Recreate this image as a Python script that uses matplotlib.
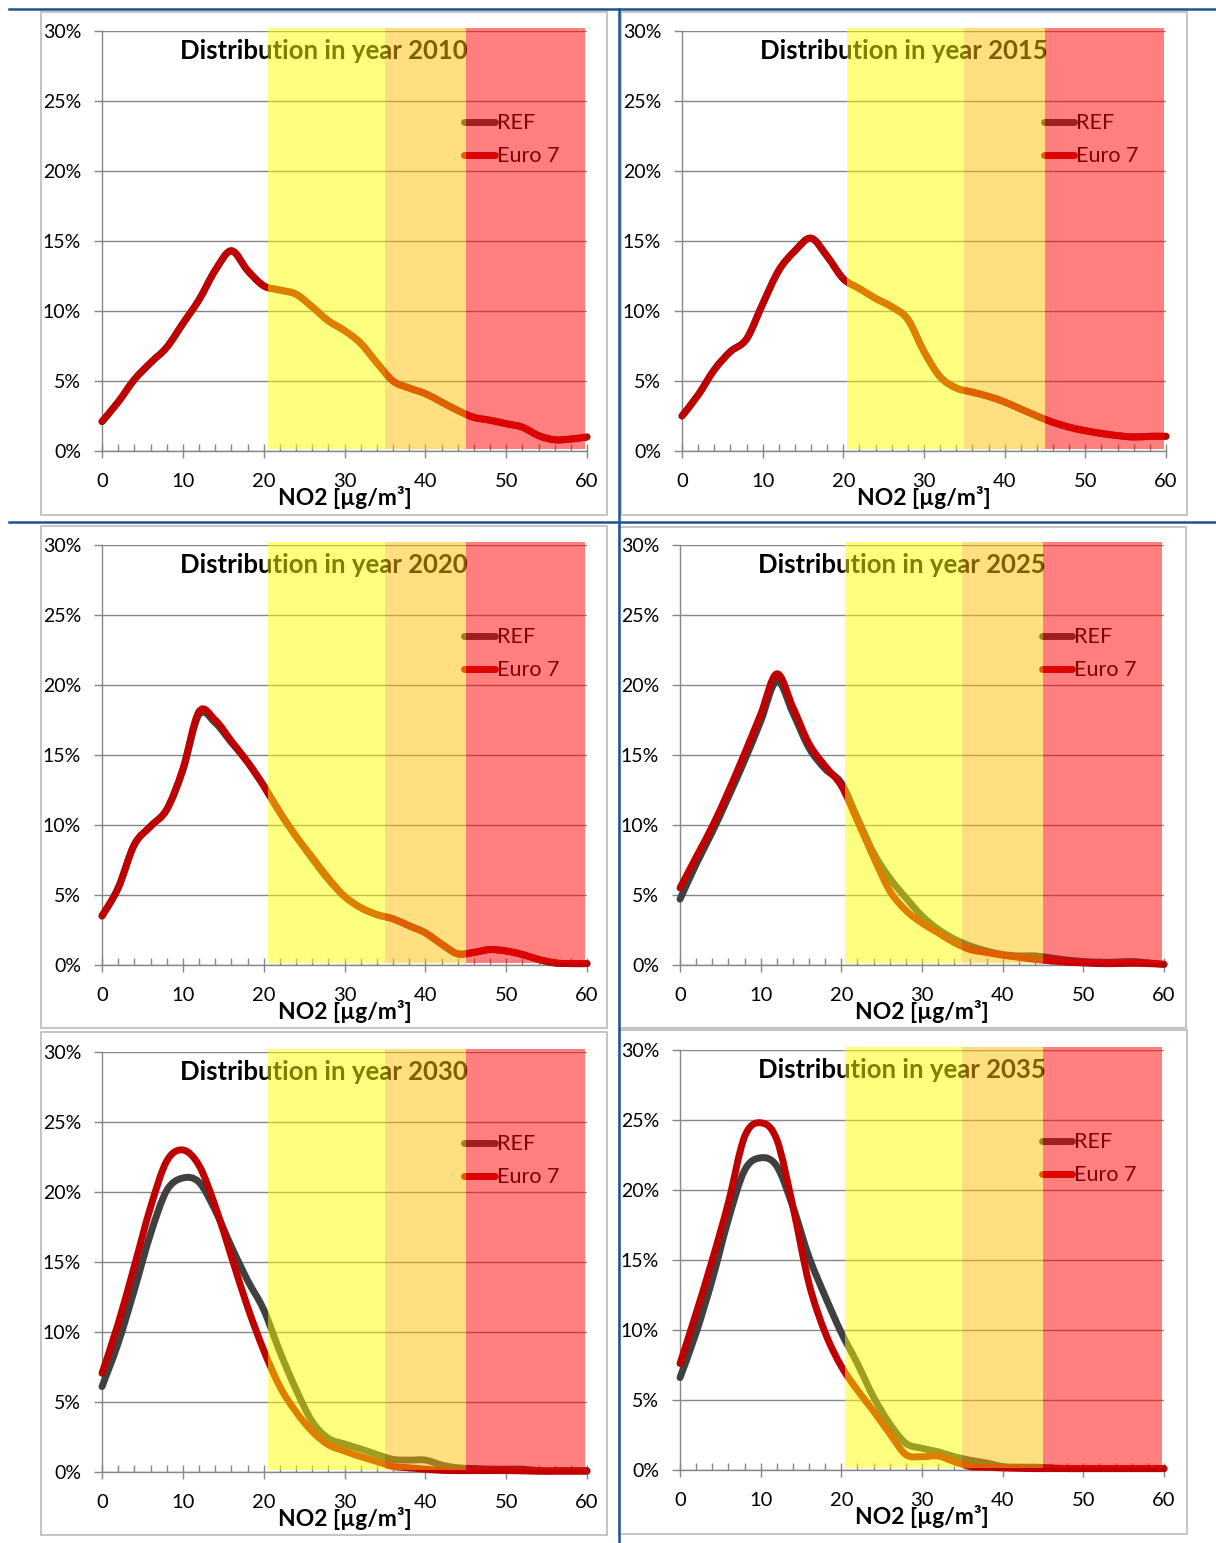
import matplotlib
matplotlib.use('Agg')
import matplotlib.pyplot as plt
from matplotlib.path import Path
from matplotlib.patches import PathPatch, Rectangle
from matplotlib.lines import Line2D

plt.rcParams['font.family'] = ['Lato', 'DejaVu Sans']

# NO2 concentration classes (x axis), step 2 ug/m3
no2 = list(range(0, 61, 2))

years = [2010, 2015, 2020, 2025, 2030, 2035]

# share of population [%] per concentration class
ref_2010 = [2.1, 3.5, 5.1, 6.3, 7.4, 9.1, 10.8, 12.9, 14.3, 12.9, 11.8, 11.5, 11.2, 10.3, 9.3, 8.6,
            7.7, 6.3, 5.0, 4.5, 4.1, 3.5, 2.9, 2.4, 2.2, 1.95, 1.7, 1.1, 0.8, 0.85, 1.0]
euro7_2010 = [2.1, 3.5, 5.1, 6.3, 7.4, 9.1, 10.8, 12.9, 14.3, 12.9, 11.8, 11.5, 11.2, 10.3, 9.3, 8.6,
              7.7, 6.3, 5.0, 4.5, 4.1, 3.5, 2.9, 2.4, 2.2, 1.95, 1.7, 1.1, 0.8, 0.85, 1.0]

ref_2015 = [2.5, 4.0, 5.8, 7.1, 8.0, 10.5, 12.9, 14.3, 15.2, 13.9, 12.3, 11.6, 10.9, 10.3, 9.4, 7.1,
            5.3, 4.5, 4.2, 3.9, 3.5, 3.0, 2.5, 2.05, 1.7, 1.45, 1.25, 1.1, 1.0, 1.05, 1.05]
euro7_2015 = [2.5, 4.0, 5.8, 7.1, 8.0, 10.5, 12.9, 14.3, 15.2, 13.9, 12.3, 11.6, 10.9, 10.3, 9.4, 7.1,
              5.3, 4.5, 4.2, 3.9, 3.5, 3.0, 2.5, 2.05, 1.7, 1.45, 1.25, 1.1, 1.0, 1.05, 1.05]

ref_2020 = [3.5, 5.5, 8.6, 9.9, 11.1, 13.9, 17.9, 17.3, 15.9, 14.5, 12.8, 10.9, 9.2, 7.6, 6.1, 4.9,
            4.1, 3.6, 3.3, 2.8, 2.3, 1.5, 0.8, 0.9, 1.1, 1.0, 0.75, 0.4, 0.15, 0.1, 0.1]
euro7_2020 = [3.5, 5.5, 8.6, 9.9, 11.1, 14.0, 18.1, 17.5, 16.0, 14.5, 12.8, 10.9, 9.2, 7.7, 6.2, 4.9,
              4.1, 3.6, 3.3, 2.8, 2.3, 1.5, 0.8, 0.9, 1.1, 1.0, 0.75, 0.4, 0.15, 0.1, 0.1]

ref_2025 = [4.7, 7.2, 9.5, 12.0, 14.6, 17.4, 20.3, 18.0, 15.5, 14.0, 13.0, 10.5, 8.0, 6.2, 4.8, 3.5,
            2.55, 1.85, 1.35, 1.0, 0.75, 0.65, 0.65, 0.5, 0.35, 0.25, 0.2, 0.2, 0.25, 0.15, 0.05]
euro7_2025 = [5.5, 7.7, 9.9, 12.4, 15.1, 17.9, 20.8, 18.4, 15.8, 14.2, 12.8, 10.3, 7.7, 5.3, 3.9, 3.0,
              2.3, 1.6, 1.1, 0.9, 0.7, 0.55, 0.4, 0.3, 0.2, 0.15, 0.1, 0.1, 0.12, 0.1, 0.05]

ref_2030 = [6.1, 9.2, 13.0, 17.0, 20.1, 21.0, 20.7, 18.7, 16.1, 13.7, 11.6, 8.6, 5.9, 3.6, 2.4, 2.0,
            1.65, 1.25, 0.9, 0.85, 0.85, 0.5, 0.3, 0.25, 0.2, 0.2, 0.2, 0.1, 0.1, 0.1, 0.1]
euro7_2030 = [7.05, 10.6, 14.7, 18.9, 22.2, 23.0, 21.9, 19.0, 15.4, 11.8, 8.7, 6.1, 4.3, 2.9, 1.95, 1.5,
              1.1, 0.75, 0.4, 0.3, 0.2, 0.12, 0.1, 0.1, 0.1, 0.1, 0.08, 0.05, 0.05, 0.05, 0.05]

ref_2035 = [6.6, 9.8, 13.6, 17.9, 21.4, 22.3, 21.7, 18.8, 15.2, 12.4, 9.8, 7.6, 5.2, 3.3, 1.9, 1.55,
            1.3, 0.95, 0.7, 0.5, 0.25, 0.2, 0.2, 0.15, 0.1, 0.1, 0.1, 0.1, 0.1, 0.1, 0.1]
euro7_2035 = [7.6, 11.2, 15.0, 19.1, 23.8, 24.8, 23.6, 18.8, 13.3, 9.8, 7.4, 5.7, 4.2, 2.6, 1.1, 0.95,
              1.0, 0.6, 0.25, 0.2, 0.15, 0.12, 0.1, 0.1, 0.1, 0.1, 0.1, 0.1, 0.1, 0.1, 0.1]

ref_series = [ref_2010, ref_2015, ref_2020, ref_2025, ref_2030, ref_2035]
euro7_series = [euro7_2010, euro7_2015, euro7_2020, euro7_2025, euro7_2030, euro7_2035]

y_ticks = [0, 5, 10, 15, 20, 25, 30]
x_ticks = [0, 10, 20, 30, 40, 50, 60]

# limit value bands: (from, to, colour)
bands = [(20.5, 35, '#FFFF00'), (35, 45, '#FFC000'), (45, 59.7, '#FF0000')]

REF_COL = '#404040'
E7_COL = '#C00000'
GRID = '#868686'

W, H = 1216, 1543
# plot areas and chart borders in pixels (x0, y0, x1, y1)
plot_px = [(102, 31, 587, 451), (682, 31, 1166, 451),
           (102, 545, 587, 965), (680, 545, 1164, 965),
           (102, 1052, 587, 1472), (680, 1050, 1164, 1470)]
border_px = [(41, 12, 607, 515), (621, 12, 1187, 515),
             (41, 526, 607, 1028), (619, 527, 1186, 1028),
             (41, 1032, 607, 1535), (619, 1030, 1187, 1534)]


def fig_rect(b):
    x0, y0, x1, y1 = b
    return [x0 / W, 1 - y1 / H, (x1 - x0) / W, (y1 - y0) / H]


def smooth_path(xs, ys):
    # excel like smoothed line: cubic bezier segments through the data points
    pts = list(zip(xs, ys))
    n = len(pts)
    verts = [pts[0]]
    codes = [Path.MOVETO]
    for i in range(n - 1):
        p0 = pts[max(i - 1, 0)]
        p1 = pts[i]
        p2 = pts[i + 1]
        p3 = pts[min(i + 2, n - 1)]
        c1 = (p1[0] + (p2[0] - p0[0]) / 6, p1[1] + (p2[1] - p0[1]) / 6)
        c2 = (p2[0] - (p3[0] - p1[0]) / 6, p2[1] - (p3[1] - p1[1]) / 6)
        verts += [c1, c2, p2]
        codes += [Path.CURVE4] * 3
    return Path(verts, codes)


fig = plt.figure(figsize=(W / 100, H / 100), dpi=100)

for k in range(6):
    r = fig_rect(border_px[k])
    fig.add_artist(Rectangle((r[0], r[1]), r[2], r[3], transform=fig.transFigure,
                             fill=False, edgecolor='#BFBFBF', lw=1.3))

    ax = fig.add_axes(fig_rect(plot_px[k]))
    ax.set_xlim(0, 60)
    ax.set_ylim(0, 30)
    ax.patch.set_alpha(0)

    for s in ['top', 'right']:
        ax.spines[s].set_visible(False)
    for s in ['left', 'bottom']:
        ax.spines[s].set_color(GRID)
        ax.spines[s].set_linewidth(1)

    ax.set_yticks(y_ticks)
    ax.set_yticklabels([f'{v}%' for v in y_ticks])
    ax.set_xticks(x_ticks)
    ax.set_xticks(no2, minor=True)
    ax.grid(axis='y', color=GRID, lw=1)
    ax.set_axisbelow(True)
    ax.tick_params(axis='x', which='major', direction='inout', length=10, width=1, color=GRID,
                   labelsize=14.5, pad=11)
    ax.tick_params(axis='x', which='minor', direction='in', length=5, width=1, color=GRID)
    ax.tick_params(axis='y', direction='out', length=6, width=1, color=GRID, labelsize=14, pad=9)

    ax.add_patch(PathPatch(smooth_path(no2, ref_series[k]), fill=False, edgecolor=REF_COL, lw=5,
                           capstyle='round', joinstyle='round', clip_on=False, zorder=3))
    ax.add_patch(PathPatch(smooth_path(no2, euro7_series[k]), fill=False, edgecolor=E7_COL, lw=5,
                           capstyle='round', joinstyle='round', clip_on=False, zorder=3))

    ax.text(27.5, 28.6, f'Distribution in year {years[k]}', ha='center', va='center',
            fontsize=18.5, fontweight='bold', zorder=4)
    ax.text(0.5, -0.11, 'NO2 [µg/m³]', transform=ax.transAxes, ha='center', va='center',
            fontsize=16.5, fontweight='bold')

    handles = [Line2D([], [], color=REF_COL, lw=5, solid_capstyle='round'),
               Line2D([], [], color=E7_COL, lw=5, solid_capstyle='round')]
    leg = ax.legend(handles, ['REF', 'Euro 7'], loc='center left', bbox_to_anchor=(0.725, 0.741),
                    frameon=False, borderpad=0, handlelength=1.4, handletextpad=0.1,
                    labelspacing=0.62, fontsize=15.5)
    leg.set_zorder(5)

    # semi transparent limit value bands drawn over everything
    for x0, x1, col in bands:
        ax.add_patch(Rectangle((x0, 0.15), x1 - x0, 30.05, facecolor=col, edgecolor='none',
                               alpha=0.5, clip_on=False, zorder=10))

# blue separator lines
BLUE = '#1C5296'
fig.add_artist(Line2D([9 / W, 1], [1 - 9 / H, 1 - 9 / H], transform=fig.transFigure, color=BLUE, lw=1.8))
fig.add_artist(Line2D([9 / W, 1], [1 - 522 / H, 1 - 522 / H], transform=fig.transFigure, color=BLUE, lw=1.8))
fig.add_artist(Line2D([619 / W, 619 / W], [1 - 9 / H, 0], transform=fig.transFigure, color=BLUE, lw=1.8))

fig.savefig('out.png', dpi=100)
